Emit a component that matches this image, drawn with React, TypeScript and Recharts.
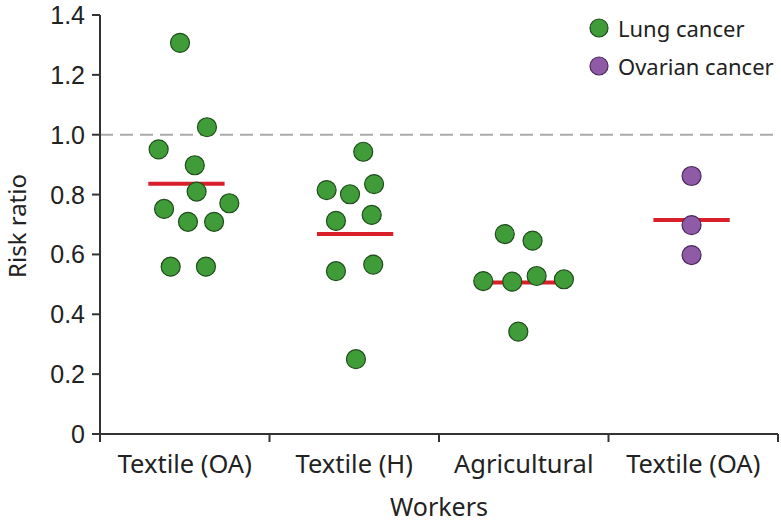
import React from 'react';
import { ScatterChart, Scatter, XAxis, YAxis, ReferenceLine, Legend } from 'recharts';

// groups along the x axis
const categories = ['Textile (OA)', 'Textile (H)', 'Agricultural', 'Textile (OA)'];

// lung cancer studies: jittered x position and risk ratio
const lungPositions = [
  0.472, 0.631, 0.346, 0.559, 0.57, 0.763, 0.378, 0.519, 0.673, 0.417, 0.625,
  1.553, 1.337, 1.475, 1.617, 1.392, 1.603, 1.392, 1.612, 1.51,
  2.388, 2.552, 2.261, 2.432, 2.576, 2.737, 2.468,
];
const lungRatios = [
  1.307, 1.025, 0.951, 0.898, 0.81, 0.771, 0.752, 0.709, 0.709, 0.559, 0.559,
  0.943, 0.815, 0.801, 0.835, 0.712, 0.732, 0.544, 0.566, 0.25,
  0.668, 0.646, 0.511, 0.509, 0.528, 0.517, 0.342,
];

// ovarian cancer studies
const ovarianPositions = [3.49, 3.49, 3.49];
const ovarianRatios = [0.862, 0.698, 0.598];

// median per group
const medianCenters = [0.51, 1.505, 2.497, 3.49];
const medianValues = [0.836, 0.668, 0.506, 0.715];

const yTicks = [0, 0.2, 0.4, 0.6, 0.8, 1.0, 1.2, 1.4];
const xTicks = [0, 0.5, 1, 1.5, 2, 2.5, 3, 3.5, 4];

const legendItems = [
  { name: 'Lung cancer', fill: '#3f9c38', stroke: '#1f4d1b' },
  { name: 'Ovarian cancer', fill: '#8f5aa6', stroke: '#4a2a5c' },
];

const lungData = lungPositions.map((x, i) => ({ x, y: lungRatios[i] }));
const ovarianData = ovarianPositions.map((x, i) => ({ x, y: ovarianRatios[i] }));

const LABEL_FONT = '"Noto Sans", sans-serif';
const TICK_FONT = '"Liberation Sans", Arial, sans-serif';

const dot = (fill: string, stroke: string) => (props: any) => (
  <circle cx={props.cx} cy={props.cy} r={9.5} fill={fill} stroke={stroke} strokeWidth={1.2} />
);

const XTick = (props: any) => {
  const { x, y, payload } = props;
  const v = payload.value;
  if (Number.isInteger(v)) {
    return <line x1={x} x2={x} y1={y - 8} y2={y} stroke="#333" strokeWidth={2} />;
  }
  return (
    <text x={x} y={y + 31} textAnchor="middle" fontSize={25.5} fill="#222" fontFamily={LABEL_FONT}>
      {categories[Math.floor(v)]}
    </text>
  );
};

const YTick = (props: any) => {
  const { x, y, payload } = props;
  const v = payload.value;
  return (
    <text x={x} y={y} dy={9} textAnchor="end" fontSize={25} fill="#222" fontFamily={TICK_FONT}>
      {v === 0 ? '0' : v.toFixed(1)}
    </text>
  );
};

const YLabel = () => (
  <text
    x={17}
    y={226}
    transform="rotate(-90 17 226)"
    dy={9}
    textAnchor="middle"
    fontSize={24}
    fill="#222"
    fontFamily={LABEL_FONT}
  >
    Risk ratio
  </text>
);

const LegendBox = () => (
  <div style={{ fontFamily: LABEL_FONT, fontSize: 22, color: '#222' }}>
    {legendItems.map((item) => (
      <div key={item.name} style={{ display: 'flex', alignItems: 'center', height: 38 }}>
        <svg width={20} height={20} style={{ marginRight: 9 }}>
          <circle cx={10} cy={10} r={9} fill={item.fill} stroke={item.stroke} strokeWidth={1.2} />
        </svg>
        <span>{item.name}</span>
      </div>
    ))}
  </div>
);

export default function App() {
  return (
    <div style={{ position: 'absolute', left: 0, top: 0, background: '#fff' }}>
      <ScatterChart width={781} height={522} margin={{ top: 15, right: 3, bottom: 0, left: 0 }}>
        <XAxis
          type="number"
          dataKey="x"
          domain={[0, 4]}
          ticks={xTicks}
          interval={0}
          tickLine={false}
          tickSize={8}
          tickMargin={0}
          tick={<XTick />}
          height={88}
          axisLine={{ stroke: '#333', strokeWidth: 2 }}
          label={{ value: 'Workers', position: 'insideBottom', offset: 6, fontSize: 25, fill: '#222', fontFamily: LABEL_FONT }}
        />
        <YAxis
          type="number"
          dataKey="y"
          domain={[0, 1.4]}
          ticks={yTicks}
          interval={0}
          width={100}
          tickSize={8}
          tickMargin={7}
          tick={<YTick />}
          tickLine={{ stroke: '#333', strokeWidth: 2 }}
          axisLine={{ stroke: '#333', strokeWidth: 2 }}
          label={<YLabel />}
        />
        <ReferenceLine y={1} stroke="#aaa" strokeWidth={2} strokeDasharray="13 7" />
        <Legend
          layout="vertical"
          align="center"
          verticalAlign="middle"
          content={<LegendBox />}
          wrapperStyle={{ left: 589, top: 9, width: 190 }}
        />
        <Scatter name="Lung cancer" data={lungData} shape={dot(legendItems[0].fill, legendItems[0].stroke)} isAnimationActive={false} />
        <Scatter name="Ovarian cancer" data={ovarianData} shape={dot(legendItems[1].fill, legendItems[1].stroke)} isAnimationActive={false} />
        {medianCenters.map((c, i) => (
          <ReferenceLine
            key={i}
            segment={[{ x: c - 0.225, y: medianValues[i] }, { x: c + 0.225, y: medianValues[i] }]}
            stroke="#d9202a"
            strokeWidth={4}
          />
        ))}
      </ScatterChart>
    </div>
  );
}
